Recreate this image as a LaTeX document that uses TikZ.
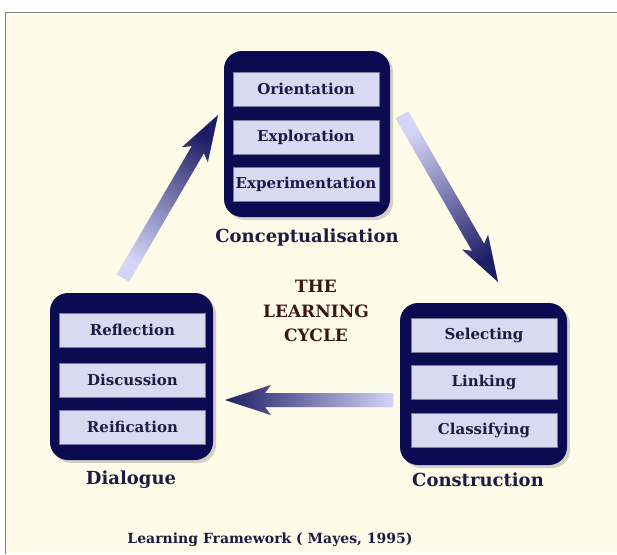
\documentclass[tikz,border=0pt]{standalone}
\usepackage{fontspec}
\setmainfont{DejaVu Serif}
\usetikzlibrary{calc,shadows}
\definecolor{cream}{HTML}{FFFBE9}
\definecolor{navy}{HTML}{0B0B52}
\definecolor{cellfill}{HTML}{D9D9F1}
\definecolor{celledge}{HTML}{7A7A9C}
\definecolor{txtnavy}{HTML}{1B1B45}
\definecolor{maroon}{HTML}{3B1414}
\definecolor{arrowlight}{HTML}{D4D4F7}
\definecolor{arrowdark}{HTML}{1E1E66}
\newcommand{\gradarrow}[3]{%
  \coordinate (#1-hb) at ($(#2)!46pt!(#1)$);
  \coordinate (#1-hj) at ($(#2)!40pt!(#1)$);
  \fill[black, opacity=0.22, shift={(2pt,-2pt)}]
    ($(#1)!7pt!90:(#2)$) -- ($(#1-hj)!7pt!90:(#2)$) -- ($(#1-hb)!15pt!90:(#2)$) -- (#2)
    -- ($(#1-hb)!15pt!-90:(#2)$) -- ($(#1-hj)!7pt!-90:(#2)$) -- ($(#1)!7pt!-90:(#2)$) -- cycle;
  \shade[top color=arrowdark, bottom color=arrowlight, shading angle=#3]
    ($(#1)!7pt!90:(#2)$) -- ($(#1-hj)!7pt!90:(#2)$) -- ($(#1-hb)!15pt!90:(#2)$) -- (#2)
    -- ($(#1-hb)!15pt!-90:(#2)$) -- ($(#1-hj)!7pt!-90:(#2)$) -- ($(#1)!7pt!-90:(#2)$) -- cycle;
}
\tikzset{
  outerbox/.style={draw=none, fill=navy, rounded corners=18pt, inner sep=0pt,
    drop shadow={shadow xshift=3pt, shadow yshift=-3pt, opacity=0.35}},
  cellbox/.style={fill=cellfill, draw=celledge, line width=0.8pt, minimum width=146pt,
    minimum height=34pt, inner sep=0pt, font=\bfseries\fontsize{15}{17}\selectfont, text=txtnavy},
  boxlabel/.style={font=\bfseries\fontsize{18}{21}\selectfont, text=txtnavy},
}
\begin{document}
\begin{tikzpicture}[x=1pt,y=-1pt]
\useasboundingbox (0,0) rectangle (617,554);
\fill[white] (0,0) rectangle (617,554);
\fill[cream] (5,12) rectangle (617,554);
\draw[gray, line width=1pt] (5,554) -- (5,12) -- (617,12);

% boxes
\node[outerbox, minimum width=166pt, minimum height=166pt] (concept) at (307,134) {};
\node[outerbox, minimum width=163pt, minimum height=167pt] (dialogue) at (131.5,376.5) {};
\node[outerbox, minimum width=167pt, minimum height=162pt] (construct) at (483.5,384) {};

% cells
\node[cellbox] (orient) at (306,89) {Orientation};
\node[cellbox] (explor) at (306,137) {Exploration};
\node[cellbox] (experi) at (306,184) {Experimentation};

\node[cellbox] (reflect) at (132.5,330) {Reflection};
\node[cellbox] (discuss) at (132.5,380) {Discussion};
\node[cellbox] (reific) at (132.5,427) {Reification};

\node[cellbox] (select) at (484,335) {Selecting};
\node[cellbox] (linking) at (484,382) {Linking};
\node[cellbox] (classify) at (484,430) {Classifying};

% labels
\node[boxlabel] (lconcept) at (307,238) {Conceptualisation};
\node[boxlabel] (ldialogue) at (131,480) {Dialogue};
\node[boxlabel] (lconstruct) at (478,480) {Construction};

\node[font=\bfseries\fontsize{17}{24.5}\selectfont, text=maroon, align=center] (cycle) at (316,311)
  {THE\\LEARNING\\CYCLE};

\node[font=\bfseries\fontsize{14}{17}\selectfont, text=txtnavy] (title) at (270,540)
  {Learning Framework ( Mayes, 1995)};

% arrows
\coordinate (a1tail) at (123,278);
\coordinate (a1tip) at (218,115);
\coordinate (a2tail) at (402,115);
\coordinate (a2tip) at (498,282);
\coordinate (a3tail) at (393,400);
\coordinate (a3tip) at (225,400);
\gradarrow{a1tail}{a1tip}{-30}
\gradarrow{a2tail}{a2tip}{-150}
\gradarrow{a3tail}{a3tip}{90}
\end{tikzpicture}
\end{document}
